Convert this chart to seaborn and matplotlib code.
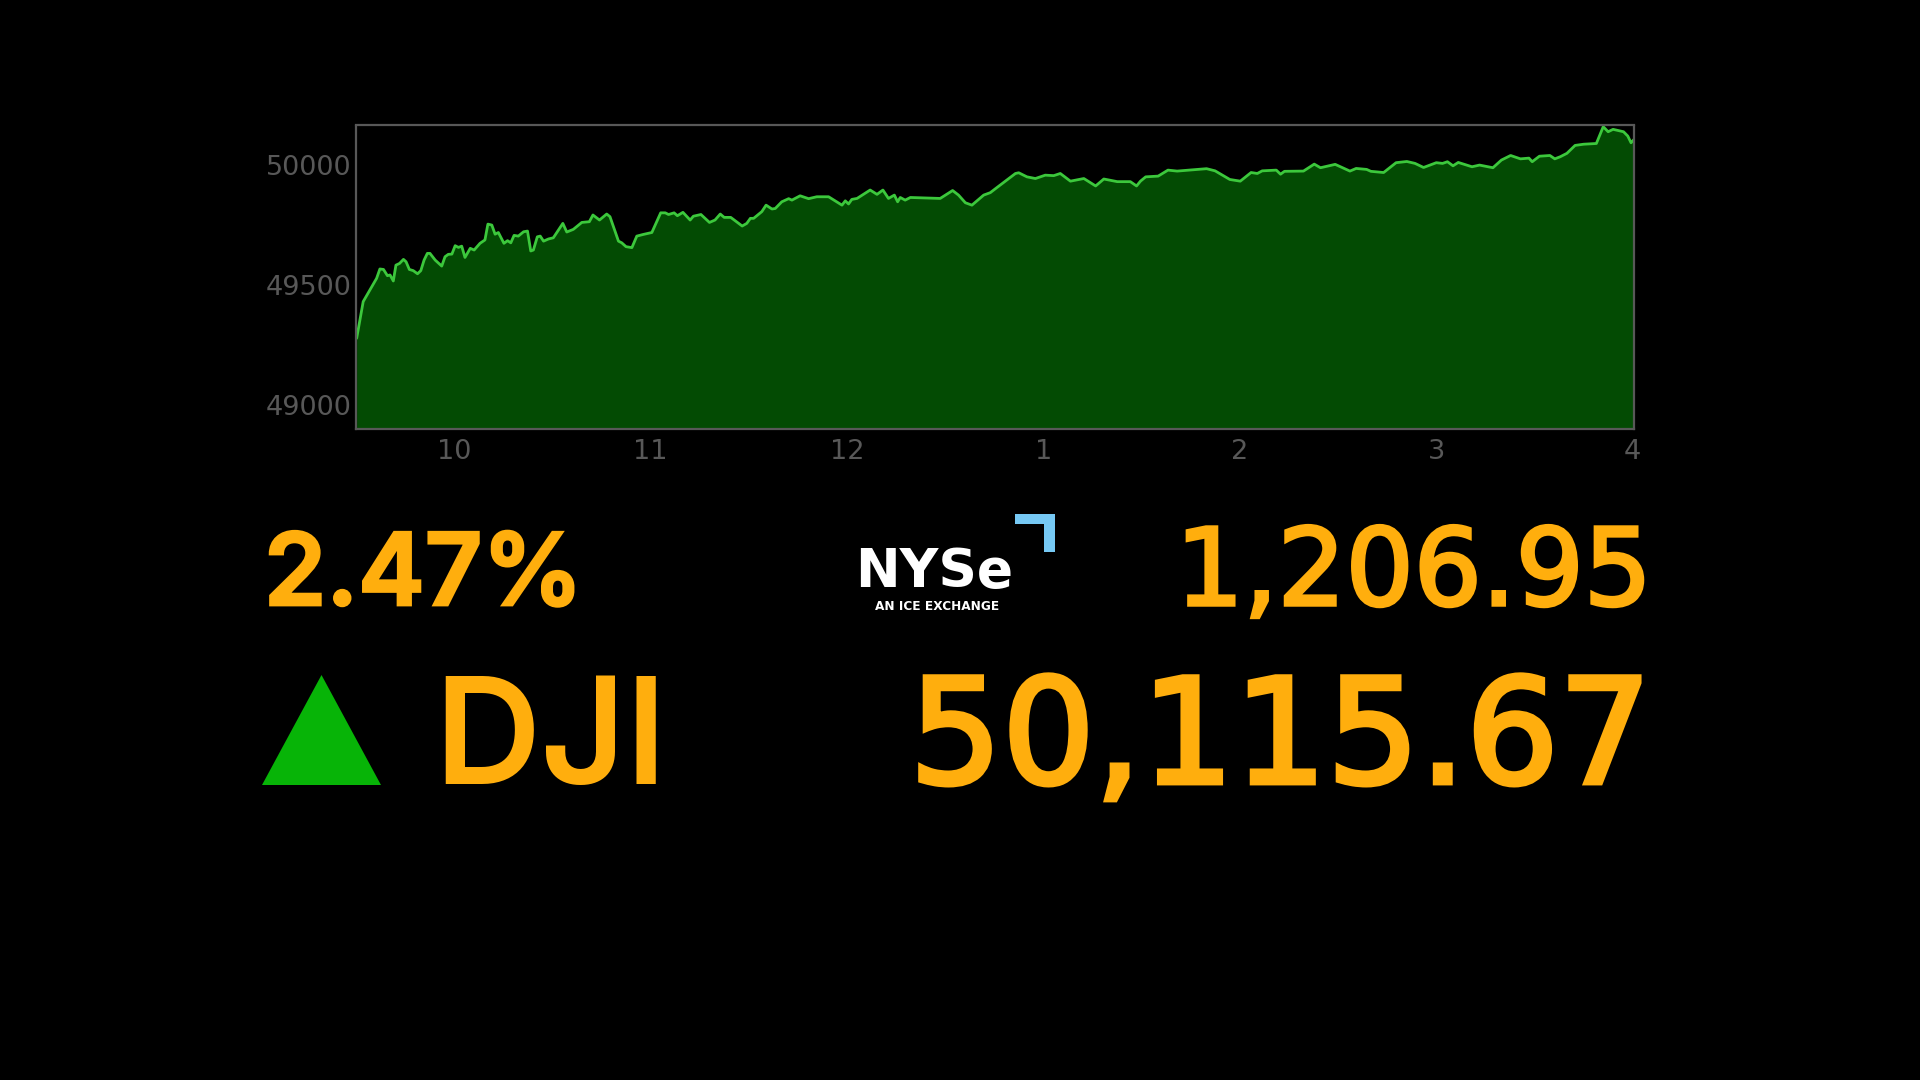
import matplotlib
matplotlib.use("Agg")
import matplotlib.pyplot as plt
import matplotlib.patheffects as pe
from matplotlib.patches import Polygon
import seaborn as sns
import pandas as pd

# minutes after the 9:30 open
minutes = [0.2, 2.2, 4.8, 6.3, 7.3, 8.4, 9.6, 10.4, 11.4, 12.2, 13.3, 14.5, 15.3, 16.3, 17.5, 18.8, 19.8, 20.8, 21.8,
           22.6, 24.2, 26.2, 27.2, 28.2, 29.3, 30.3, 31.3, 32.3, 33.3, 34.9, 36.1, 37.9, 39.4, 40.3, 41.5, 42.5, 43.5,
           45.2, 46.3, 47.3, 48.3, 49.6, 51.2, 52.4, 53.4, 54.2, 55.4, 56.3, 57.3, 58.8, 60.3, 63.2, 64.4, 66.4, 69.0,
           71.3, 72.4, 74.4, 76.6, 77.6, 80.2, 81.2, 82.5, 84.3, 85.8, 87.8, 90.4, 93.1, 94.5, 95.5, 97.2, 98.2, 99.9,
           102.1, 103.1, 105.4, 108.0, 109.7, 111.3, 112.5, 114.5, 118.0, 119.4, 120.5, 121.5, 124.0, 125.3, 127.1,
           128.1, 130.1, 132.2, 133.2, 135.7, 138.3, 140.8, 144.4, 148.5, 149.5, 150.5, 151.5, 153.1, 157.1, 159.2,
           161.0, 162.7, 164.5, 165.5, 166.3, 167.8, 169.4, 178.5, 180.1, 182.3, 184.1, 186.2, 188.2, 191.8, 193.8,
           195.9, 201.5, 202.5, 205.0, 207.6, 210.6, 213.2, 215.2, 218.3, 222.4, 226.0, 228.5, 232.6, 236.6, 238.5,
           239.7, 241.3, 245.1, 248.1, 250.9, 259.9, 262.5, 267.0, 270.2, 273.5, 275.4, 276.9, 281.2, 282.5, 283.7,
           289.5, 292.8, 294.7, 299.2, 303.7, 305.6, 308.8, 310.1, 314.0, 317.8, 321.1, 323.6, 326.2, 330.1, 332.0,
           333.5, 335.2, 336.8, 341.0, 343.3, 347.4, 350.0, 352.8, 355.8, 358.4, 359.4, 361.6, 364.8, 366.3, 368.0,
           370.0, 372.5, 375.1, 379.0, 381.1, 382.6, 384.1, 387.3, 388.6, 389.6, 390.5]
index_level = [49278, 49431, 49493, 49528, 49567, 49565, 49539, 49542, 49517, 49583, 49590, 49607, 49597, 49565, 49560,
               49547, 49560, 49604, 49632, 49632, 49604, 49579, 49618, 49628, 49629, 49664, 49657, 49662, 49615, 49653,
               49646, 49674, 49688, 49754, 49750, 49712, 49719, 49674, 49685, 49676, 49707, 49704, 49722, 49725, 49642,
               49646, 49701, 49704, 49683, 49692, 49697, 49757, 49721, 49732, 49761, 49764, 49792, 49771, 49796, 49785,
               49683, 49676, 49660, 49656, 49704, 49711, 49719, 49801, 49801, 49794, 49801, 49789, 49803, 49771, 49787,
               49794, 49761, 49771, 49796, 49782, 49782, 49746, 49757, 49778, 49778, 49806, 49833, 49817, 49819, 49847,
               49860, 49854, 49872, 49860, 49868, 49868, 49833, 49851, 49838, 49857, 49861, 49896, 49878, 49896, 49861,
               49875, 49847, 49865, 49854, 49865, 49861, 49875, 49894, 49875, 49843, 49833, 49875, 49885, 49907, 49965,
               49968, 49951, 49944, 49958, 49956, 49965, 49933, 49944, 49913, 49942, 49931, 49931, 49913, 49933, 49951,
               49954, 49979, 49975, 49985, 49976, 49940, 49933, 49969, 49965, 49976, 49979, 49962, 49974, 49975, 50004,
               49989, 50003, 49975, 49986, 49982, 49974, 49969, 50010, 50015, 50007, 49990, 50010, 50007, 50014, 49997,
               50011, 49993, 50000, 49989, 50021, 50040, 50026, 50029, 50014, 50037, 50040, 50026, 50035, 50049, 50082,
               50087, 50090, 50160, 50139, 50149, 50139, 50121, 50093, 50107]

x_ticks = [30, 90, 150, 210, 270, 330, 390]
x_labels = ["10", "11", "12", "1", "2", "3", "4"]
y_ticks = [49000, 49500, 50000]

pct_change = "2.47%"
point_change = "1,206.95"
index_name = "DJI"
index_close = "50,115.67"

W, H = 1920, 1080
ORANGE = "#FFAE0D"
GRAY = "#585858"

sns.set_theme(style="dark", rc={"figure.facecolor": "black", "axes.facecolor": "black"})
plt.rcParams["font.family"] = ["Inter", "DejaVu Sans"]

df = pd.DataFrame({"minutes": minutes, "level": index_level})

fig = plt.figure(figsize=(W / 100, H / 100), dpi=100, facecolor="black")
ax = fig.add_axes([356 / W, 1 - 429 / H, (1634 - 356) / W, (429 - 125.5) / H])

ax.fill_between(df["minutes"], df["level"], 48900, color="#034B03", lw=0)
sns.lineplot(data=df, x="minutes", y="level", color="#3CC83C", lw=2.0, ax=ax, errorbar=None, sort=False)

ax.set_xlim(0, 390.5)
ax.set_ylim(48900, 50165)
ax.set_xticks(x_ticks, x_labels, family="DejaVu Sans")
ax.set_yticks(y_ticks, [str(v) for v in y_ticks], family="DejaVu Sans")
ax.tick_params(axis="x", colors=GRAY, labelsize=19.5, length=0, pad=7)
ax.tick_params(axis="y", colors=GRAY, labelsize=19.5, length=0, pad=3)
ax.set_xlabel("")
ax.set_ylabel("")
ax.grid(False)
for spine in ax.spines.values():
    spine.set_color(GRAY)
    spine.set_linewidth(1.6)


def px_text(x, y, s, size, color=ORANGE, ha="left", weight=600, family="Inter", thicken=0):
    # y is the text baseline, in pixels from the top
    t = fig.text(x / W, 1 - y / H, s, fontsize=size, color=color, ha=ha, va="baseline", fontweight=weight,
                 family=family)
    if thicken:
        t.set_path_effects([pe.withStroke(linewidth=thicken, foreground=color, joinstyle="miter")])


def px_poly(points, color):
    fig.add_artist(Polygon([(x / W, 1 - y / H) for x, y in points], closed=True, color=color, lw=0,
                           transform=fig.transFigure))


px_text(264, 605, pct_change, 72, thicken=2)
px_text(1652, 605, point_change, 77, ha="right", weight=400, family="DejaVu Sans", thicken=2.5)
px_text(434, 784, index_name, 106)
px_text(1652, 783, index_close, 105, ha="right", weight=400, family="DejaVu Sans", thicken=3.5)

# up triangle
px_poly([(262, 785), (381, 785), (321.5, 675)], "#07B407")

# exchange logo
px_text(855, 587, "NYSe", 38.5, color="white", weight=700, family="DejaVu Sans")
px_text(875, 610, "AN ICE EXCHANGE", 8.7, color="white", weight=700, family="DejaVu Sans")
px_poly([(1015, 514), (1055, 514), (1055, 552), (1044, 552), (1044, 524), (1015, 524)], "#76C9F4")

fig.savefig("out.png", dpi=100, facecolor="black")
